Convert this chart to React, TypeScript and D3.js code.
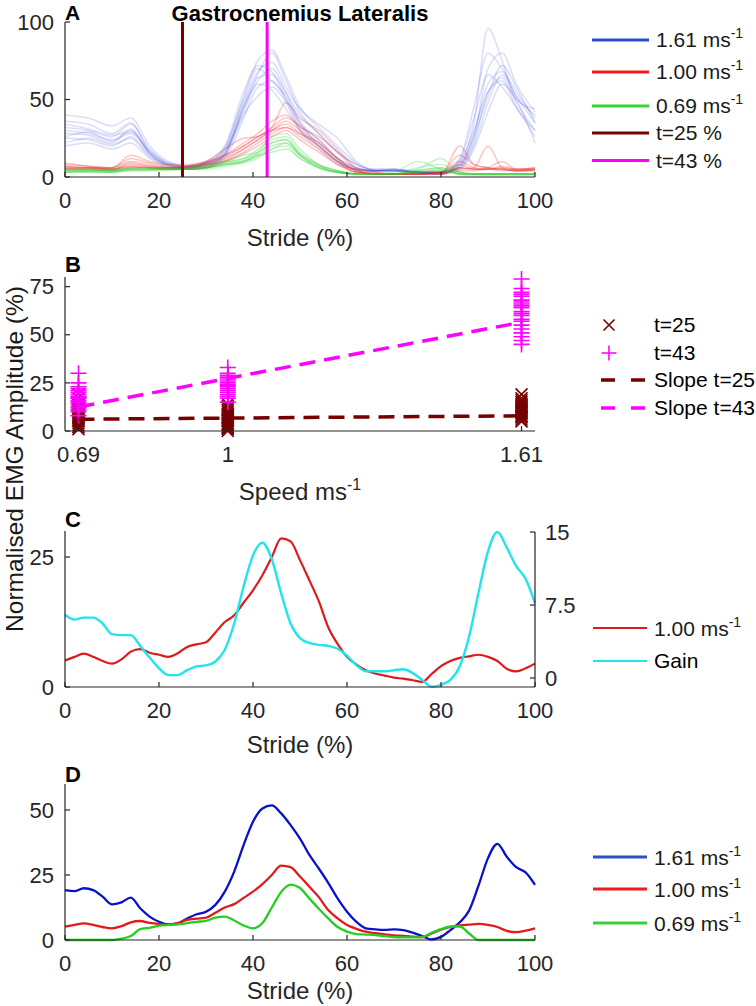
import React from 'react';
import * as d3 from 'd3';

const WIDTH = 756;
const HEIGHT = 1006;
const FONT = "'Liberation Sans', Arial, Helvetica, sans-serif";
const AXIS = '#262626';

// ---- panel A: single strides (values read at these stride %)
const STRIDE_A = [0, 5, 10, 14, 18, 22, 26, 30, 34, 38, 41, 44, 47, 50, 54, 58, 62, 66, 70, 75, 80, 84, 87, 90, 93, 96, 100];

const TRIALS_161 = [
  [28, 27, 22, 30, 15, 8, 6, 8, 15, 45, 62, 70, 55, 40, 28, 16, 8, 4, 4, 3, 3, 10, 30, 55, 62, 45, 30],
  [40, 38, 33, 38, 20, 10, 7, 9, 18, 52, 75, 82, 65, 45, 32, 20, 9, 5, 5, 3, 2, 8, 25, 70, 80, 60, 42],
  [25, 24, 20, 26, 14, 7, 5, 7, 12, 38, 58, 62, 50, 35, 20, 10, 5, 4, 4, 3, 3, 6, 20, 48, 66, 52, 35],
  [32, 30, 26, 34, 18, 9, 7, 10, 20, 55, 72, 68, 50, 32, 22, 12, 6, 4, 5, 4, 3, 12, 45, 80, 70, 55, 38],
  [20, 22, 18, 22, 12, 6, 5, 6, 14, 40, 52, 58, 48, 30, 18, 8, 5, 4, 4, 3, 2, 5, 18, 42, 60, 50, 22],
  [36, 34, 28, 35, 16, 8, 6, 8, 16, 48, 68, 74, 58, 44, 34, 25, 10, 4, 5, 3, 3, 9, 35, 96, 75, 50, 44],
  [22, 25, 21, 25, 13, 8, 6, 9, 17, 42, 60, 56, 44, 30, 20, 10, 5, 4, 4, 3, 2, 7, 22, 55, 64, 48, 30],
  [30, 28, 24, 28, 16, 9, 7, 8, 14, 44, 66, 80, 62, 42, 28, 16, 8, 5, 5, 3, 3, 6, 28, 60, 68, 52, 40],
  [26, 29, 23, 31, 15, 7, 5, 7, 15, 46, 64, 66, 54, 36, 24, 12, 6, 4, 4, 3, 2, 11, 38, 66, 58, 45, 26],
  [34, 31, 27, 29, 17, 8, 6, 9, 19, 50, 70, 62, 52, 34, 22, 11, 5, 4, 4, 3, 3, 8, 26, 52, 72, 58, 35],
];

const TRIALS_100 = [
  [6, 6, 5, 8, 7, 6, 6, 8, 12, 18, 24, 30, 34, 28, 20, 10, 4, 2, 2, 2, 3, 8, 5, 5, 4, 4, 5],
  [8, 7, 6, 12, 9, 7, 7, 9, 14, 22, 28, 36, 40, 32, 26, 16, 5, 2, 2, 2, 2, 20, 8, 6, 5, 5, 6],
  [5, 5, 4, 6, 6, 5, 6, 7, 10, 15, 20, 26, 30, 24, 16, 8, 3, 2, 2, 2, 3, 5, 6, 20, 6, 4, 4],
  [7, 6, 6, 10, 8, 6, 7, 10, 18, 25, 26, 32, 38, 33, 24, 12, 4, 3, 2, 2, 2, 6, 5, 6, 10, 5, 5],
  [6, 5, 5, 7, 6, 5, 5, 6, 10, 16, 22, 28, 32, 26, 18, 9, 3, 2, 2, 2, 2, 4, 4, 5, 5, 4, 4],
  [9, 7, 6, 14, 10, 8, 8, 10, 14, 20, 26, 32, 48, 38, 30, 18, 6, 3, 2, 2, 3, 10, 6, 5, 7, 5, 6],
  [5, 6, 5, 7, 6, 6, 6, 8, 11, 18, 24, 30, 36, 30, 20, 10, 3, 2, 2, 2, 2, 6, 5, 5, 6, 5, 5],
  [7, 6, 5, 9, 7, 6, 7, 9, 13, 20, 26, 30, 32, 28, 22, 12, 4, 2, 2, 2, 3, 14, 8, 6, 5, 4, 5],
];

const TRIALS_069 = [
  [4, 4, 4, 5, 5, 5, 5, 6, 8, 10, 14, 20, 22, 14, 7, 3, 2, 2, 2, 3, 4, 2, 2, 2, 2, 2, 2],
  [5, 5, 4, 6, 6, 6, 6, 7, 10, 12, 18, 24, 26, 16, 8, 4, 2, 2, 2, 4, 6, 3, 2, 2, 2, 2, 2],
  [3, 3, 3, 4, 4, 4, 5, 5, 7, 9, 12, 18, 20, 12, 6, 3, 2, 2, 2, 6, 8, 3, 2, 2, 2, 2, 2],
  [4, 5, 5, 6, 6, 5, 6, 8, 10, 14, 16, 22, 24, 15, 8, 4, 2, 2, 3, 10, 5, 2, 1, 1, 1, 1, 1],
  [3, 4, 3, 5, 5, 5, 5, 6, 8, 10, 13, 18, 22, 14, 6, 3, 2, 2, 2, 3, 5, 2, 2, 2, 2, 2, 2],
  [5, 4, 4, 5, 5, 6, 6, 7, 9, 12, 16, 26, 28, 18, 8, 4, 2, 2, 2, 5, 12, 3, 2, 2, 2, 2, 2],
  [4, 4, 4, 5, 5, 5, 6, 6, 9, 11, 15, 22, 24, 14, 7, 3, 2, 2, 2, 4, 6, 2, 2, 2, 2, 2, 2],
  [3, 3, 3, 4, 4, 5, 5, 6, 8, 10, 14, 16, 18, 12, 6, 3, 2, 2, 2, 3, 4, 2, 2, 2, 2, 2, 2],
];

const EVENTS = [25, 43];

// ---- panels C and D: averaged curves
const STRIDE = [0, 2, 4, 6, 8, 10, 12, 14, 16, 18, 20, 22, 24, 26, 28, 30, 32, 34, 36, 38, 40, 42, 44, 46, 48, 50,
  52, 54, 56, 58, 60, 62, 64, 66, 68, 70, 72, 74, 76, 78, 80, 82, 84, 86, 88, 90, 92, 94, 96, 98, 100];

const MEAN_161 = [19.2, 18.8, 19.9, 19.2, 16.7, 13.7, 14.5, 16.3, 12.2, 9.0,
  7.0, 6.0, 6.4, 8.3, 9.9, 10.9, 13.5, 18.6, 26.3, 36.5,
  45.5, 50.6, 51.8, 48.7, 44.2, 39.0, 32.7, 27.5, 22.0, 16.0,
  10.9, 7.0, 4.5, 4.1, 3.9, 4.1, 3.8, 2.8, 1.5, 0.2,
  1.2, 3.8, 6.8, 11.4, 21.0, 31.5, 37.0, 32.0, 28.0, 26.0, 21.2];

const MEAN_100 = [5.1, 5.8, 6.4, 5.8, 5.0, 4.5, 5.3, 6.8, 7.3, 6.6,
  6.2, 5.8, 6.5, 7.7, 8.2, 8.6, 10.5, 12.5, 13.8, 16.2,
  18.6, 21.5, 25.0, 28.6, 28.0, 24.4, 20.5, 16.5, 11.5, 8.3,
  5.8, 4.3, 3.2, 2.6, 2.2, 1.8, 1.6, 1.3, 1.0, 2.5,
  4.0, 5.0, 5.6, 5.9, 6.2, 5.8, 5.0, 3.5, 3.0, 3.6, 4.5];

const MEAN_069 = [0, 0, 0, 0, 0, 0, 0.5, 1.5, 4.2, 4.7,
  5.5, 5.8, 6.0, 6.5, 7.0, 7.4, 8.6, 9.0, 7.5, 5.6,
  4.5, 6.5, 12.5, 18.5, 21.3, 20.0, 16.0, 12.0, 8.3, 5.0,
  3.2, 2.3, 2.1, 1.9, 1.5, 1.1, 1.0, 1.0, 1.2, 2.8,
  4.2, 5.2, 5.2, 2.5, 0, 0, 0, 0, 0, 0, 0];

const GAIN = [6.5, 6.0, 6.2, 6.2, 5.6, 4.5, 4.4, 4.4, 3.3, 2.1,
  1.0, 0.3, 0.3, 0.8, 1.2, 1.3, 1.7, 2.9, 5.6, 9.4,
  12.6, 13.9, 12.2, 8.7, 5.6, 4.1, 3.6, 3.4, 3.3, 3.0,
  2.3, 1.3, 0.7, 0.7, 0.7, 0.8, 0.9, 0.5, -0.2, -0.9,
  -0.7, -0.2, 1.2, 4.3, 8.8, 13.0, 15.0, 13.4, 11.5, 10.2, 7.7];

// ---- panel B: amplitude at t=25 and t=43 per speed
const SPEEDS = [0.69, 1.0, 1.61];
const AMP_T25 = [
  [1, 2, 3, 4, 5, 5.5, 6, 7, 7.5, 8, 9, 10, 11, 12, 13, 14, 15, 17, 19],
  [0, 1, 1.5, 2, 3, 3.5, 4, 5, 5.5, 6, 7, 8, 9, 10, 11, 12, 13, 14],
  [5, 6, 7, 7.5, 8, 9, 9.5, 10, 10.5, 11, 12, 12.5, 13, 14, 15, 16, 17, 19],
];
const AMP_T43 = [
  [8, 10, 11, 12, 13, 14, 15, 16, 17, 17.5, 18, 19, 20, 21, 22, 23, 25, 30],
  [15, 17, 18, 19, 20, 21, 22, 23, 23.5, 24, 25, 26, 27, 28, 29, 30, 33],
  [45, 47, 49, 51, 53, 55, 57, 58, 60, 61, 62, 64, 65, 66, 67, 68, 70, 71, 72, 74, 79],
];
const SLOPE_ENDS = [0.69, 1.61];
const SLOPE_T25 = [6.1, 7.9];
const SLOPE_T43 = [12.5, 56.5];

// ---- scales
const left = 65;
const right = 535;
const xStride = d3.scaleLinear().domain([0, 100]).range([left, right]);
const xSpeed = d3.scaleLinear().domain([0.662, 1.638]).range([left, right]);
const yA = d3.scaleLinear().domain([0, 100]).range([177, 22]);
const yB = d3.scaleLinear().domain([0, 80]).range([431, 277]);
const yC = d3.scaleLinear().domain([0, 30]).range([687, 531]);
const yGain = d3.scaleLinear().domain([-0.925, 15]).range([687, 532]);
const yD = d3.scaleLinear().domain([0, 60]).range([940, 784]);

const linePath = (xs: number[], ys: number[], y: d3.ScaleLinear<number, number>) =>
  d3.line<number>()
    .x((_, i) => xStride(xs[i]))
    .y((v) => y(v))
    .curve(d3.curveMonotoneX)(ys) || '';

function BottomAxis({ x, y, ticks, fmt }: any) {
  const [r0, r1] = x.range();
  return (
    <g>
      <line x1={r0} x2={r1} y1={y} y2={y} stroke={AXIS} strokeWidth={1.2} />
      {ticks.map((t: number) => (
        <g key={t}>
          <line x1={x(t)} x2={x(t)} y1={y} y2={y - 5} stroke={AXIS} strokeWidth={1.2} />
          <text x={x(t)} y={y + 31} textAnchor="middle" fontSize={22} fill={AXIS}>
            {fmt ? fmt(t) : t}
          </text>
        </g>
      ))}
    </g>
  );
}

function SideAxis({ y, x, ticks, side, fmt }: any) {
  const [r0, r1] = y.range();
  const dir = side === 'right' ? -1 : 1;
  return (
    <g>
      <line x1={x} x2={x} y1={r0} y2={r1} stroke={AXIS} strokeWidth={1.2} />
      {ticks.map((t: number) => (
        <g key={t}>
          <line x1={x} x2={x + 5 * dir} y1={y(t)} y2={y(t)} stroke={AXIS} strokeWidth={1.2} />
          <text
            x={side === 'right' ? x + 10 : x - 11}
            y={y(t)}
            dy="0.35em"
            textAnchor={side === 'right' ? 'start' : 'end'}
            fontSize={22}
            fill={AXIS}
          >
            {fmt ? fmt(t) : t}
          </text>
        </g>
      ))}
    </g>
  );
}

function Speed({ x, y, v, size = 21 }: any) {
  return (
    <text x={x} y={y} dy="0.35em" fontSize={size} fill="#1a1a1a">
      {v} ms<tspan dy={-9} fontSize={14}>-1</tspan>
    </text>
  );
}

function Cross({ x, y, r, color }: any) {
  return (
    <path d={`M${x - r},${y - r}L${x + r},${y + r}M${x - r},${y + r}L${x + r},${y - r}`} stroke={color} strokeWidth={1.6} />
  );
}

function Plus({ x, y, r, color }: any) {
  return <path d={`M${x - r},${y}L${x + r},${y}M${x},${y - r}L${x},${y + r}`} stroke={color} strokeWidth={1.6} />;
}

export default function App() {
  const maroon = '#760000';
  const magenta = '#ff00ff';

  return (
    <svg
      width={WIDTH}
      height={HEIGHT}
      style={{ position: 'absolute', left: 0, top: 0, background: '#fff' }}
      fontFamily={FONT}
    >
      {/* ---------------- A ---------------- */}
      <text x={65} y={20} fontSize={21} fontWeight="bold">A</text>
      <text x={300} y={21} fontSize={22} fontWeight="bold" textAnchor="middle">Gastrocnemius Lateralis</text>
      <g fill="none" strokeWidth={1.5}>
        {TRIALS_161.map((t, i) => (
          <path key={'b' + i} d={linePath(STRIDE_A, t, yA)} stroke="#1f33d6" strokeOpacity={0.16} />
        ))}
        {TRIALS_100.map((t, i) => (
          <path key={'r' + i} d={linePath(STRIDE_A, t, yA)} stroke="#ee1111" strokeOpacity={0.24} />
        ))}
        {TRIALS_069.map((t, i) => (
          <path key={'g' + i} d={linePath(STRIDE_A, t, yA)} stroke="#1fcc1f" strokeOpacity={0.24} />
        ))}
      </g>
      {EVENTS.map((e, i) => (
        <line key={e} x1={xStride(e)} x2={xStride(e)} y1={yA(100)} y2={yA(0)} stroke={i === 0 ? maroon : magenta} strokeWidth={3} />
      ))}
      <SideAxis y={yA} x={left} ticks={[0, 50, 100]} />
      <BottomAxis x={xStride} y={177} ticks={[0, 20, 40, 60, 80, 100]} />
      <text x={300} y={246} textAnchor="middle" fontSize={24} fill={AXIS}>Stride (%)</text>

      <g>
        {[
          { y: 40, c: '#2a4fc8', v: '1.61' },
          { y: 72, c: '#f21b1b', v: '1.00' },
          { y: 106, c: '#36d336', v: '0.69' },
        ].map((r) => (
          <g key={r.v}>
            <line x1={592} x2={649} y1={r.y} y2={r.y} stroke={r.c} strokeWidth={3.2} />
            <Speed x={656} y={r.y} v={r.v} />
          </g>
        ))}
        {EVENTS.map((e, i) => (
          <g key={e}>
            <line x1={592} x2={649} y1={133 + i * 27.5} y2={133 + i * 27.5} stroke={i === 0 ? maroon : magenta} strokeWidth={3.2} />
            <text x={656} y={133 + i * 27.5} dy="0.35em" fontSize={21} fill="#1a1a1a">t={e} %</text>
          </g>
        ))}
      </g>

      {/* ---------------- B ---------------- */}
      <text x={65} y={272} fontSize={22} fontWeight="bold">B</text>
      {SPEEDS.map((s, i) =>
        AMP_T25[i].map((v, j) => <Cross key={`x${i}-${j}`} x={xSpeed(s)} y={yB(v)} r={6} color={maroon} />)
      )}
      {SPEEDS.map((s, i) =>
        AMP_T43[i].map((v, j) => <Plus key={`p${i}-${j}`} x={xSpeed(s)} y={yB(v)} r={8} color={magenta} />)
      )}
      <line x1={xSpeed(SLOPE_ENDS[0])} x2={xSpeed(SLOPE_ENDS[1])} y1={yB(SLOPE_T25[0])} y2={yB(SLOPE_T25[1])}
        stroke={maroon} strokeWidth={3.5} strokeDasharray="16,9" />
      <line x1={xSpeed(SLOPE_ENDS[0])} x2={xSpeed(SLOPE_ENDS[1])} y1={yB(SLOPE_T43[0])} y2={yB(SLOPE_T43[1])}
        stroke={magenta} strokeWidth={3.5} strokeDasharray="16,9" />
      <SideAxis y={yB} x={left} ticks={[0, 25, 50, 75]} />
      <BottomAxis x={xSpeed} y={431} ticks={SPEEDS} fmt={(t: number) => (t === 1 ? '1' : String(t))} />
      <text x={300} y={500} textAnchor="middle" fontSize={24} fill={AXIS}>
        Speed ms<tspan dy={-10} fontSize={16}>-1</tspan>
      </text>

      <g>
        <Cross x={609} y={325} r={5.5} color={maroon} />
        <text x={654} y={325} dy="0.35em" fontSize={21}>t=25</text>
        <Plus x={609} y={353} r={7.5} color={magenta} />
        <text x={654} y={353} dy="0.35em" fontSize={21}>t=43</text>
        <line x1={601} x2={645} y1={380} y2={380} stroke={maroon} strokeWidth={3.5} strokeDasharray="14,16" />
        <text x={654} y={380} dy="0.35em" fontSize={21}>Slope t=25</text>
        <line x1={601} x2={645} y1={408} y2={408} stroke={magenta} strokeWidth={3.5} strokeDasharray="14,16" />
        <text x={654} y={408} dy="0.35em" fontSize={21}>Slope t=43</text>
      </g>

      <text transform="translate(23,459) rotate(-90)" textAnchor="middle" fontSize={24.5} fill="#1a1a1a">
        Normalised EMG Amplitude (%)
      </text>

      {/* ---------------- C ---------------- */}
      <text x={65} y={527} fontSize={22} fontWeight="bold">C</text>
      <path d={linePath(STRIDE, MEAN_100, yC)} fill="none" stroke="#dc1c1c" strokeWidth={2.2} />
      <path d={linePath(STRIDE, GAIN, yGain)} fill="none" stroke="#22e4ea" strokeWidth={2.4} />
      <SideAxis y={yC} x={left} ticks={[0, 25]} />
      <SideAxis y={yGain} x={right} ticks={[0, 7.5, 15]} side="right" />
      <BottomAxis x={xStride} y={687} ticks={[0, 20, 40, 60, 80, 100]} />
      <text x={300} y={753} textAnchor="middle" fontSize={24} fill={AXIS}>Stride (%)</text>
      <g>
        <line x1={593} x2={647} y1={628} y2={628} stroke="#dc1c1c" strokeWidth={2} />
        <Speed x={654} y={629} v="1.00" />
        <line x1={593} x2={647} y1={661} y2={661} stroke="#22e4ea" strokeWidth={2.2} />
        <text x={654} y={661} dy="0.35em" fontSize={21}>Gain</text>
      </g>

      {/* ---------------- D ---------------- */}
      <text x={65} y={782} fontSize={22} fontWeight="bold">D</text>
      <path d={linePath(STRIDE, MEAN_161, yD)} fill="none" stroke="#0a12c8" strokeWidth={2.3} />
      <path d={linePath(STRIDE, MEAN_100, yD)} fill="none" stroke="#e21a1a" strokeWidth={2.3} />
      <path d={linePath(STRIDE, MEAN_069, yD)} fill="none" stroke="#22d022" strokeWidth={2.3} />
      <SideAxis y={yD} x={left} ticks={[0, 25, 50]} />
      <BottomAxis x={xStride} y={940} ticks={[0, 20, 40, 60, 80, 100]} />
      <text x={300} y={999} textAnchor="middle" fontSize={24} fill={AXIS}>Stride (%)</text>
      <g>
        {[
          { y: 857, c: '#2a4fc8', v: '1.61' },
          { y: 889, c: '#f21b1b', v: '1.00' },
          { y: 923, c: '#36d336', v: '0.69' },
        ].map((r) => (
          <g key={r.v}>
            <line x1={593} x2={647} y1={r.y} y2={r.y} stroke={r.c} strokeWidth={3} />
            <Speed x={654} y={r.y + 1} v={r.v} />
          </g>
        ))}
      </g>
    </svg>
  );
}
